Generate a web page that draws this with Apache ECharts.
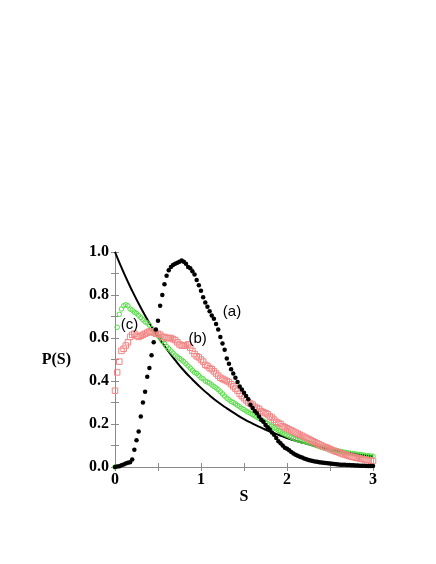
<!DOCTYPE html>
<html><head><meta charset="utf-8">
<script src="https://cdn.jsdelivr.net/npm/echarts@6/dist/echarts.min.js"></script>
<style>html,body{margin:0;padding:0;background:#fff}#c{width:436px;height:564px}</style>
</head><body><div id="c"></div>
<script>
// sample grid step for the measured curves (S from 0 to 3)
const sStep = 0.025;
// (a) black filled dots
const curveA = [0.0,0.002,0.004,0.008,0.012,0.016,0.02,0.022,0.035,0.08,
0.125,0.165,0.235,0.30,0.35,0.42,0.46,0.52,0.58,0.64,
0.68,0.75,0.80,0.85,0.89,0.915,0.93,0.94,0.945,0.95,
0.955,0.96,0.955,0.945,0.93,0.925,0.91,0.895,0.87,0.845,
0.82,0.79,0.765,0.745,0.725,0.705,0.69,0.665,0.64,0.605,
0.575,0.545,0.505,0.48,0.455,0.435,0.415,0.395,0.375,0.36,
0.345,0.33,0.315,0.29,0.275,0.26,0.25,0.235,0.22,0.21,
0.195,0.185,0.175,0.16,0.15,0.135,0.12,0.11,0.10,0.09,
0.085,0.078,0.07,0.063,0.057,0.052,0.048,0.044,0.04,0.036,
0.033,0.03,0.028,0.026,0.024,0.022,0.021,0.02,0.019,0.018,
0.016,0.015,0.014,0.013,0.012,0.011,0.011,0.01,0.009,0.009,
0.008,0.008,0.007,0.007,0.006,0.006,0.006,0.005,0.005,0.005,0.005];
// (b) red open squares
const curveB = [0.355,0.44,0.49,0.54,0.55,0.565,0.58,0.605,0.615,0.62,
0.61,0.605,0.61,0.615,0.62,0.625,0.63,0.63,0.625,0.62,
0.62,0.615,0.605,0.605,0.60,0.60,0.60,0.595,0.59,0.58,
0.57,0.565,0.565,0.565,0.57,0.555,0.54,0.525,0.515,0.51,
0.50,0.49,0.475,0.47,0.46,0.455,0.445,0.435,0.425,0.415,
0.41,0.405,0.40,0.395,0.385,0.375,0.365,0.355,0.34,0.33,
0.32,0.31,0.30,0.295,0.29,0.28,0.275,0.27,0.26,0.255,
0.25,0.245,0.235,0.23,0.22,0.21,0.205,0.20,0.19,0.185,
0.18,0.175,0.17,0.165,0.16,0.155,0.15,0.145,0.14,0.135,
0.13,0.125,0.12,0.115,0.11,0.105,0.10,0.095,0.092,0.088,
0.083,0.079,0.075,0.071,0.068,0.064,0.06,0.057,0.054,0.051,
0.048,0.046,0.043,0.041,0.039,0.037,0.035,0.033,0.031,0.03,0.028];
// (c) green open circles
const curveC = [0.0,0.65,0.71,0.735,0.75,0.755,0.75,0.735,0.73,0.72,
0.715,0.705,0.695,0.685,0.675,0.67,0.66,0.645,0.635,0.625,
0.61,0.60,0.585,0.575,0.56,0.55,0.54,0.53,0.52,0.512,
0.505,0.498,0.49,0.48,0.47,0.46,0.45,0.44,0.435,0.425,
0.415,0.41,0.40,0.395,0.39,0.382,0.375,0.368,0.36,0.35,
0.34,0.33,0.32,0.313,0.305,0.30,0.293,0.287,0.28,0.273,
0.267,0.26,0.255,0.25,0.244,0.238,0.232,0.226,0.22,0.214,
0.208,0.202,0.196,0.19,0.183,0.177,0.17,0.164,0.158,0.153,
0.148,0.143,0.138,0.134,0.13,0.127,0.124,0.121,0.119,0.117,
0.113,0.11,0.107,0.103,0.099,0.095,0.092,0.089,0.087,0.085,
0.083,0.08,0.078,0.076,0.074,0.072,0.07,0.068,0.066,0.065,
0.063,0.062,0.06,0.059,0.058,0.056,0.055,0.053,0.052,0.051,0.05];
// solid black reference curve, read at S = 0, 0.1, ..., 3.0
const lineS = [0,0.1,0.2,0.3,0.4,0.5,0.6,0.7,0.8,0.9,1.0,1.1,1.2,1.3,1.4,1.5,1.6,1.7,1.8,1.9,2.0,2.1,2.2,2.3,2.4,2.5,2.6,2.7,2.8,2.9,3.0];
const lineP = [1.0,0.905,0.819,0.741,0.670,0.607,0.549,0.497,0.449,0.407,0.368,0.333,0.301,0.273,0.247,0.223,0.202,0.183,0.165,0.150,0.135,0.122,0.111,0.100,0.091,0.082,0.074,0.067,0.061,0.055,0.050];
// curve labels and their positions in data coordinates
const labelText = ['(a)','(b)','(c)'];
const labelS = [1.36, 0.96, 0.17];
const labelP = [0.72, 0.595, 0.66];

const pairs = arr => arr.map((v,i)=>[+(i*sStep).toFixed(3), v]);

const tickFont = {fontFamily:'Liberation Serif', fontWeight:'bold', fontSize:16, color:'#000'};
const axisGray = '#8a8a8a';

const chart = echarts.init(document.getElementById('c'));
chart.setOption({
  animation:false,
  backgroundColor:'#fff',
  grid:{left:115, top:252, right:63, bottom:97},
  xAxis:[{
    type:'value', min:0, max:3, interval:1,
    name:'S', nameLocation:'middle', nameGap:21,
    nameTextStyle:{fontFamily:'Liberation Serif', fontWeight:'bold', fontSize:16, color:'#000'},
    axisLine:{lineStyle:{color:axisGray, width:1}},
    axisTick:{inside:true, length:4, lineStyle:{color:axisGray}},
    minorTick:{show:true, splitNumber:2, length:4, lineStyle:{color:axisGray}},
    axisLabel:{...tickFont, margin:5},
    splitLine:{show:false}
  },{
    type:'value', min:0, max:3, interval:1, position:'top',
    axisLine:{lineStyle:{color:axisGray, width:1}},
    axisTick:{inside:true, length:4, lineStyle:{color:axisGray}},
    minorTick:{show:true, splitNumber:2, length:4, lineStyle:{color:axisGray}},
    axisLabel:{show:false}, splitLine:{show:false}
  }],
  yAxis:[{
    type:'value', min:0, max:1, interval:0.2,
    name:'P(S)', nameLocation:'middle', nameGap:44, nameRotate:0,
    nameTextStyle:{fontFamily:'Liberation Serif', fontWeight:'bold', fontSize:16, color:'#000'},
    axisLine:{lineStyle:{color:axisGray, width:1}},
    axisTick:{inside:true, length:4, lineStyle:{color:axisGray}},
    minorTick:{show:true, splitNumber:2, length:4, lineStyle:{color:axisGray}},
    axisLabel:{...tickFont, margin:6, formatter:v=>v.toFixed(1)},
    splitLine:{show:false}
  },{
    type:'value', min:0, max:1, interval:0.2, position:'right',
    axisLine:{lineStyle:{color:axisGray, width:1}},
    axisTick:{inside:true, length:4, lineStyle:{color:axisGray}},
    minorTick:{show:true, splitNumber:2, length:4, lineStyle:{color:axisGray}},
    axisLabel:{show:false}, splitLine:{show:false}
  }],
  series:[
    {type:'line', name:'Poisson', data:lineS.map((s,i)=>[s,lineP[i]]), smooth:true, showSymbol:false,
      lineStyle:{color:'#000', width:2}, z:2},
    {type:'scatter', name:'(c)', data:pairs(curveC), symbol:'circle', symbolSize:4.5,
      itemStyle:{color:'rgba(0,0,0,0)', borderColor:'#55dd44', borderWidth:1, opacity:1}, z:3},
    {type:'scatter', name:'(b)', data:pairs(curveB), symbol:'rect', symbolSize:5.5,
      itemStyle:{color:'rgba(0,0,0,0)', borderColor:'#f28484', borderWidth:1, opacity:1}, z:4},
    {type:'scatter', name:'(a)', data:pairs(curveA), symbol:'circle', symbolSize:4.5,
      itemStyle:{color:'#000', opacity:1}, z:5},
    {type:'scatter', name:'labels', data:labelS.map((s,i)=>({value:[s,labelP[i]], name:labelText[i]})),
      symbolSize:0, silent:true, z:6, itemStyle:{opacity:1},
      label:{show:true, position:'inside', formatter:p=>p.name,
        fontFamily:'Liberation Sans', fontSize:15, color:'#000', textBorderWidth:0}}
  ]
});
</script></body></html>
